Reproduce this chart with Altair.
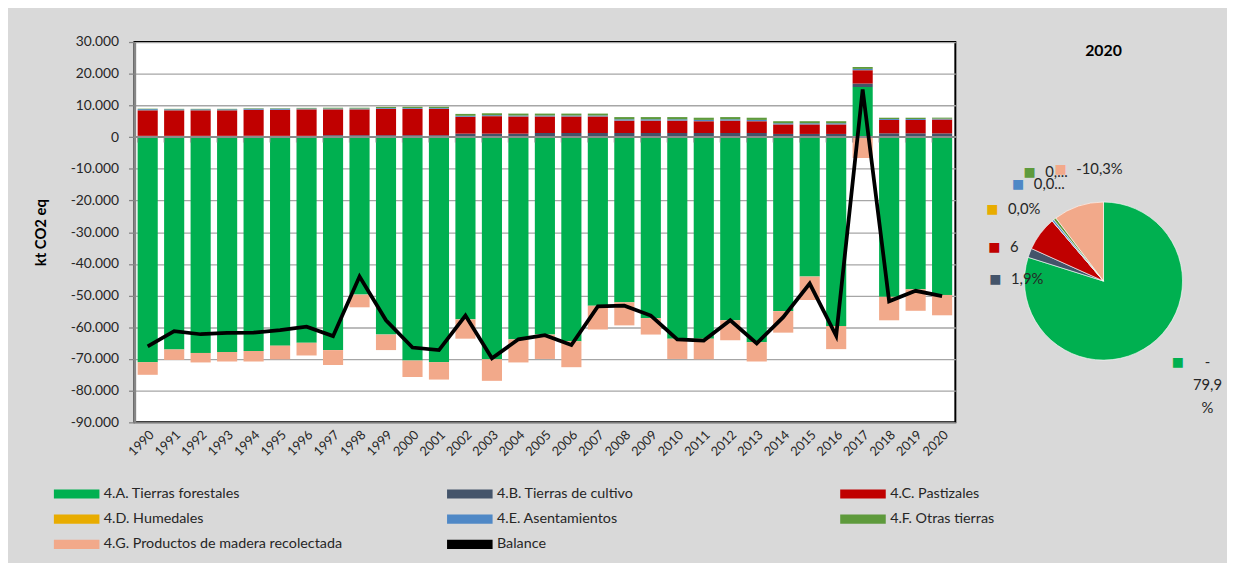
import altair as alt
import pandas as pd

years = list(range(1990, 2021))
forest = [-71000, -67000, -68100, -67800, -67500, -65800, -64900, -67200, -49700, -62300,
          -70500, -71000, -57500, -70100, -63800, -62300, -64400, -53200, -52100, -57100,
          -63600, -63600, -57800, -64700, -54900, -44000, -59600, 15800, -50400, -48000, -49800]
crop = [400, 400, 400, 400, 400, 400, 400, 600, 600, 600,
        600, 600, 1100, 1100, 1100, 1300, 1300, 1300, 1300, 1300,
        1300, 1300, 1300, 1300, 1000, 1000, 1000, 1100, 1200, 1200, 1180]
grass = [8050, 8050, 8050, 8050, 8200, 8200, 8350, 8150, 8150, 8300,
         8300, 8300, 5300, 5500, 5400, 5200, 5200, 5200, 3900, 3900,
         3900, 3700, 3900, 3700, 3000, 3000, 3000, 4200, 4200, 4200, 4360]
wet = [20, 20, 20, 20, 20, 20, 20, 20, 20, 20,
       20, 20, 20, 20, 20, 20, 20, 20, 20, 20,
       20, 20, 20, 20, 20, 20, 20, 20, 20, 20, 20]
settle = [350, 300, 300, 300, 350, 350, 250, 250, 250, 250,
          250, 250, 300, 300, 300, 300, 300, 300, 400, 400,
          400, 400, 400, 400, 350, 350, 350, 400, 300, 300, 250]
other = [150, 150, 150, 150, 150, 150, 200, 250, 250, 350,
         400, 400, 600, 600, 600, 600, 600, 600, 700, 700,
         700, 700, 700, 700, 650, 650, 650, 600, 400, 400, 330]
hwp = [-4000, -3300, -3000, -3000, -3300, -4300, -4000, -4700, -4000, -4900,
       -5200, -5500, -6100, -6800, -7300, -7700, -8200, -7500, -7300, -5200,
       -6400, -6500, -6300, -6100, -6800, -7400, -7300, -6600, -7400, -6800, -6420]
balance = [-66000, -61200, -62200, -61800, -61700, -60900, -59800, -62800, -44000, -57800,
           -66400, -67200, -56300, -69800, -63800, -62500, -65600, -53400, -53200, -56300,
           -63800, -64200, -57800, -65100, -56800, -46200, -62700, 15000, -51800, -48500, -50200]

cats = ["4.A. Tierras forestales", "4.B. Tierras de cultivo", "4.C. Pastizales",
        "4.D. Humedales", "4.E. Asentamientos", "4.F. Otras tierras",
        "4.G. Productos de madera recolectada"]
colors = ["#00b050", "#44546a", "#c00000", "#e8ac00", "#4f88c6", "#5e9a3c", "#f2a98a"]
balance_name = "Balance"
pie_year = "2020"
pie_labels = ["-\n79,9\n%", "1,9%", "6", "0,0%", "0,0...", "0,...", "-10,3%"]
y_domain = [-90000, 30000]

series = [forest, crop, grass, wet, settle, other, hwp]

rows = []
for ci, (cat, vals) in enumerate(zip(cats, series)):
    for yr, v in zip(years, vals):
        rows.append({"year": str(yr), "cat": cat, "value": v, "idx": ci})
df = pd.DataFrame(rows)
bal_df = pd.DataFrame({"year": [str(y) for y in years], "value": balance,
                       "cat": [balance_name] * len(years)})

pie_df = pd.DataFrame({
    "cat": cats,
    "value": [abs(s[-1]) for s in series],
    "label": pie_labels,
    "idx": list(range(len(cats))),
})

FONT = "Lato"
TXT = "#262626"

# legend fills column by column: order the domain so rows read A B C / D E F / G Balance
all_names = cats + [balance_name]
all_colors = colors + ["#000000"]
legend_order = [0, 3, 6, 1, 4, 7, 2, 5]
color_scale = alt.Scale(domain=[all_names[i] for i in legend_order],
                        range=[all_colors[i] for i in legend_order])

rect_shape = "M-2.5,-0.5L2.5,-0.5L2.5,0.5L-2.5,0.5Z"

legend = alt.Legend(
    title=None, orient="none", legendX=-68, legendY=448, columns=3,
    gridAlign="all", columnPadding=105, rowPadding=9.5,
    symbolSize=340, symbolType=rect_shape, symbolStrokeWidth=0,
    labelOffset=18, labelFontSize=14.5, labelColor=TXT, labelFont=FONT,
    labelLimit=400,
)

y_label_expr = "(datum.value < 0 ? '-' : '') + replace(format(abs(datum.value), ','), ',', '.')"

y_axis = alt.Axis(title="kt CO2 eq", titleFontSize=15, titleFontWeight="bold",
                  titleColor="#000000", titlePadding=22, titleFont=FONT,
                  tickCount=12, labelExpr=y_label_expr, labelOverlap=False,
                  labelBound=False, labelFlush=False, labelSeparation=0,
                  grid=True, gridColor="#a6a6a6", gridWidth=1.3,
                  domainColor="#868686", domainWidth=2.5,
                  tickColor="#868686", tickSize=6, tickWidth=1.3,
                  labelFontSize=14, labelPadding=10, labelColor=TXT, labelFont=FONT)

bars = alt.Chart(df).mark_bar().encode(
    x=alt.X("year:O", scale=alt.Scale(paddingInner=0.24, paddingOuter=0.12),
            axis=alt.Axis(title=None, labelAngle=-45, ticks=False, domain=False,
                          labelFontSize=13, labelPadding=6, labelColor=TXT, labelFont=FONT)),
    y=alt.Y("value:Q", stack="zero",
            scale=alt.Scale(domain=y_domain, nice=False, zero=False),
            axis=y_axis),
    color=alt.Color("cat:N", scale=color_scale, legend=legend),
    order=alt.Order("idx:Q"),
)

zero_rule = alt.Chart(bal_df).mark_rule(color="#8c8c8c", strokeWidth=1.3).encode(
    y=alt.datum(0, axis=y_axis))
zero_ticks = alt.Chart(bal_df).mark_tick(
    orient="vertical", size=5, thickness=1.3, color="#8c8c8c", yOffset=3
).encode(x=alt.X("year:O", bandPosition=0), y=alt.datum(0, axis=y_axis))

line = alt.Chart(bal_df).mark_line(strokeWidth=3.8, strokeJoin="miter").encode(
    x=alt.X("year:O"),
    y=alt.Y("value:Q", axis=y_axis),
    color=alt.Color("cat:N", scale=color_scale, legend=legend),
)

bar_chart = alt.layer(bars, zero_rule, zero_ticks, line).properties(
    width=831, height=385,
    view=alt.ViewBackground(fill="white", stroke="black", strokeWidth=2),
)

pie_base = alt.Chart(pie_df).encode(
    theta=alt.Theta("value:Q", stack=True),
    order=alt.Order("idx:Q"),
    color=alt.Color("cat:N", scale=color_scale, legend=None),
)
arc = pie_base.mark_arc(outerRadius=80, stroke="white", strokeWidth=0.6)

# Excel-like nudges (dx, dy) of each data label from its slice's mid-angle anchor
label_nudges = [(9, -8), (-5, 38), (-21, 33), (-40, 12), (-15, -12), (-6, -22), (-8, -7)]
pie_layers = [arc]
for cat, (ddx, ddy) in zip(cats, label_nudges):
    pred = alt.FieldEqualPredicate(field="cat", equal=cat)
    first = cat == cats[0]
    pie_layers.append(
        pie_base.mark_text(radius=112, dx=ddx, dy=ddy, fontSize=13, font="DejaVu Sans",
                           baseline="middle", align="center").encode(
            text=alt.condition(pred, alt.value("\u25a0"), alt.value("")))
    )
    pie_layers.append(
        pie_base.mark_text(radius=112, dx=ddx + (30 if first else 16), dy=ddy,
                           align="center" if first else "left", baseline="middle",
                           fontSize=15, lineBreak="\n", font=FONT, lineHeight=23).encode(
            text=alt.condition(pred, alt.Text("label:N"), alt.value("")),
            color=alt.value(TXT))
    )

pie_chart = alt.layer(*pie_layers).properties(
    width=200, height=484,
    title=alt.TitleParams(pie_year, fontSize=16, fontWeight="bold", anchor="middle",
                          offset=-17, color="#000000", font=FONT),
    view=alt.ViewBackground(strokeOpacity=0),
)

chart = alt.hconcat(bar_chart, pie_chart, spacing=50, bounds="flush").resolve_scale(
    color="independent"
).properties(
    background="#d9d9d9",
    padding={"left": 24, "top": 23, "right": 5, "bottom": 13},
).configure(font=FONT).configure_axisY(labelOverlap=False)

chart.save("out.html", embed_options={"renderer": "svg", "actions": False})
